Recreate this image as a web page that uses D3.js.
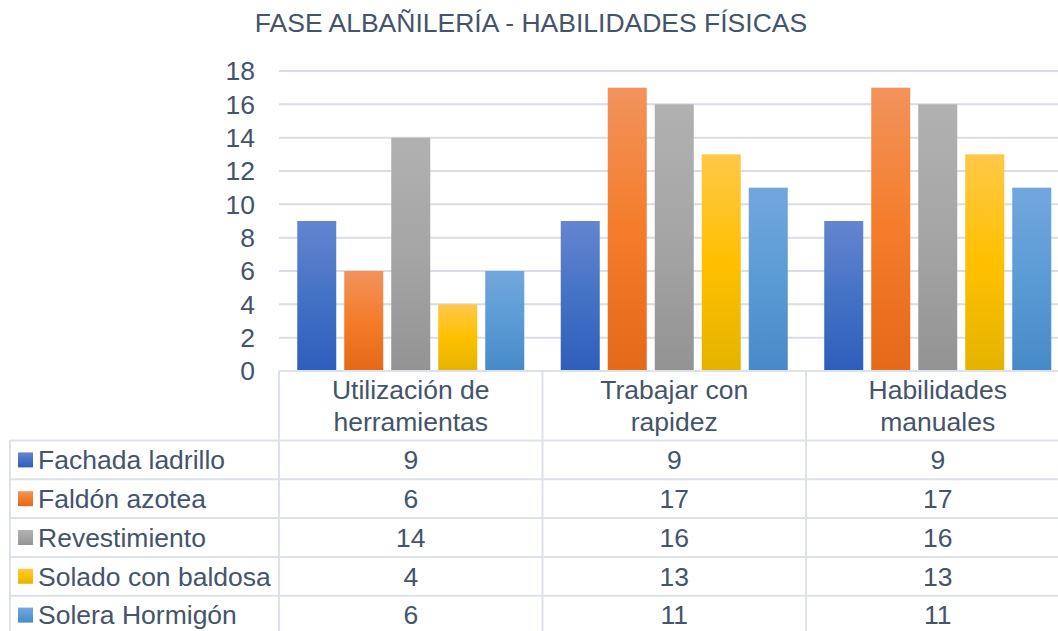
<!DOCTYPE html>
<html>
<head>
<meta charset="utf-8">
<script src="https://cdn.jsdelivr.net/npm/d3@7"></script>
<style>
  body { margin: 0; background: #fff; }
  text { font-family: "Liberation Sans", Arial, sans-serif; fill: #44546a; }
</style>
</head>
<body>
<div id="chart"></div>
<script>

var title = "FASE ALBAÑILERÍA - HABILIDADES FÍSICAS";

var categories = ["Utilización de herramientas", "Trabajar con rapidez", "Habilidades manuales"];
var categoryLines = [["Utilización de", "herramientas"], ["Trabajar con", "rapidez"], ["Habilidades", "manuales"]];

var series = ["Fachada ladrillo", "Faldón azotea", "Revestimiento", "Solado con baldosa", "Solera Hormigón"];

var fachada = [9, 9, 9];
var faldon = [6, 17, 17];
var revestimiento = [14, 16, 16];
var solado = [4, 13, 13];
var solera = [6, 11, 11];

var yTicks = [0, 2, 4, 6, 8, 10, 12, 14, 16, 18];

var values = [fachada, faldon, revestimiento, solado, solera];

// gradient stops per series: top, middle, bottom
var colors = [
    ["#6585d0", "#4472c4", "#2e5ebc"],
    ["#f2935c", "#f47c2a", "#e46918"],
    ["#b1b1b1", "#a5a5a5", "#939393"],
    ["#ffc849", "#ffc000", "#e4b300"],
    ["#72a7dd", "#5b9bd5", "#4889c8"]
];

var width = 1058, height = 631;
var plotLeft = 279, plotTop = 71, plotBottom = 371;
var bandW = 263.5;
var rowH = 38.8;
var headerBottom = 440.5;
var fontSize = 26.5;
var lineColor = "#dde2ea";

var svg = d3.select("#chart")
    .append("svg")
    .attr("width", width)
    .attr("height", height);

var defs = svg.append("defs");
colors.forEach(function(c, i) {
    var g = defs.append("linearGradient")
        .attr("id", "grad" + i)
        .attr("x1", 0).attr("y1", 0).attr("x2", 0).attr("y2", 1);
    g.append("stop").attr("offset", "0%").attr("stop-color", c[0]);
    g.append("stop").attr("offset", "50%").attr("stop-color", c[1]);
    g.append("stop").attr("offset", "100%").attr("stop-color", c[2]);
});

var x = d3.scaleBand()
    .domain(categories)
    .range([plotLeft, plotLeft + bandW * categories.length]);

var xInner = d3.scaleBand()
    .domain(series)
    .range([0, x.bandwidth()])
    .paddingInner(0.17)
    .paddingOuter(0.388);

var y = d3.scaleLinear()
    .domain([0, 18])
    .range([plotBottom, plotTop]);

// title
svg.append("text")
    .attr("x", 531)
    .attr("y", 32)
    .attr("text-anchor", "middle")
    .style("font-size", fontSize + "px")
    .text(title);

// gridlines
svg.append("g")
    .selectAll("line")
    .data(yTicks.slice(1))
    .enter()
    .append("line")
    .attr("x1", plotLeft)
    .attr("x2", plotLeft + bandW * 3)
    .attr("y1", function(d) { return y(d); })
    .attr("y2", function(d) { return y(d); })
    .attr("stroke", "#d9dee6")
    .attr("stroke-width", 2);

// y axis labels
svg.append("g")
    .selectAll("text")
    .data(yTicks)
    .enter()
    .append("text")
    .attr("x", 255)
    .attr("y", function(d) { return y(d); })
    .attr("dy", "0.35em")
    .attr("text-anchor", "end")
    .style("font-size", fontSize + "px")
    .text(function(d) { return d; });

// bars
var groups = svg.append("g")
    .selectAll("g")
    .data(series)
    .enter()
    .append("g")
    .attr("fill", function(d, i) { return "url(#grad" + i + ")"; });

groups.selectAll("rect")
    .data(function(s, i) {
        return categories.map(function(c, j) {
            return { cat: c, s: s, v: values[i][j] };
        });
    })
    .enter()
    .append("rect")
    .attr("x", function(d) { return x(d.cat) + xInner(d.s); })
    .attr("y", function(d) { return y(d.v); })
    .attr("width", xInner.bandwidth())
    .attr("height", function(d) { return plotBottom - y(d.v); });

// data table
var table = svg.append("g");
var tableRight = plotLeft + bandW * 3;

table.append("line")
    .attr("x1", plotLeft).attr("x2", tableRight)
    .attr("y1", plotBottom).attr("y2", plotBottom)
    .attr("stroke", lineColor).attr("stroke-width", 2);

d3.range(series.length + 1).forEach(function(r) {
    var yy = headerBottom + r * rowH;
    table.append("line")
        .attr("x1", 10).attr("x2", tableRight)
        .attr("y1", yy).attr("y2", yy)
        .attr("stroke", lineColor).attr("stroke-width", 2);
});

table.append("line")
    .attr("x1", 10).attr("x2", 10)
    .attr("y1", headerBottom).attr("y2", height + 10)
    .attr("stroke", lineColor).attr("stroke-width", 2);

categories.forEach(function(c) {
    table.append("line")
        .attr("x1", x(c)).attr("x2", x(c))
        .attr("y1", plotBottom).attr("y2", height + 10)
        .attr("stroke", lineColor).attr("stroke-width", 2);
});

// category header labels
categories.forEach(function(c, j) {
    var t = table.append("text")
        .attr("x", x(c) + x.bandwidth() / 2)
        .attr("y", 399)
        .attr("text-anchor", "middle")
        .style("font-size", fontSize + "px");
    categoryLines[j].forEach(function(line, k) {
        t.append("tspan")
            .attr("x", x(c) + x.bandwidth() / 2)
            .attr("dy", k === 0 ? 0 : 31.5)
            .text(line);
    });
});

// rows: legend key + values
series.forEach(function(s, i) {
    var cy = headerBottom + i * rowH + rowH / 2;
    table.append("rect")
        .attr("x", 18)
        .attr("y", cy - 7.5)
        .attr("width", 15)
        .attr("height", 15)
        .attr("fill", "url(#grad" + i + ")");
    table.append("text")
        .attr("x", 38)
        .attr("y", cy)
        .attr("dy", "0.35em")
        .style("font-size", fontSize + "px")
        .text(s);
    categories.forEach(function(c, j) {
        table.append("text")
            .attr("x", x(c) + x.bandwidth() / 2)
            .attr("y", cy)
            .attr("dy", "0.35em")
            .attr("text-anchor", "middle")
            .style("font-size", fontSize + "px")
            .text(values[i][j]);
    });
});

</script>
</body>
</html>
